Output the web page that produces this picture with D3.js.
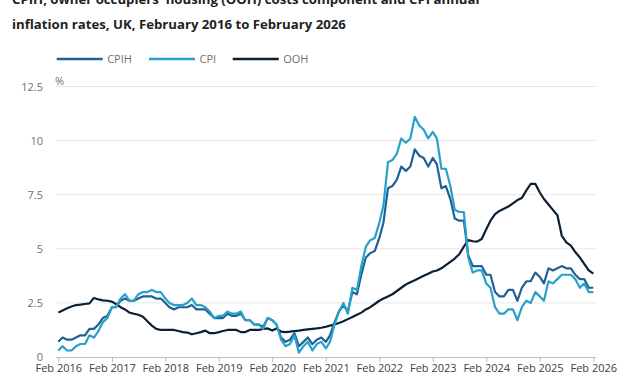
<!DOCTYPE html>
<html>
<head>
<meta charset="utf-8">
<script src="https://cdn.jsdelivr.net/npm/d3@7"></script>
<style>
  html, body { margin: 0; padding: 0; background: #ffffff; }
  svg { display: block; font-family: "Open Sans", "Noto Sans", sans-serif; }
</style>
</head>
<body>
<div id="chart"></div>
<script>
// ---- Data (annual inflation rate, %, monthly, Feb 2016 – Feb 2026) ----
const titleLines = [
  "CPIH, owner occupiers' housing (OOH) costs component and CPI annual",
  "inflation rates, UK, February 2016 to February 2026"
];
const seriesNames = ["CPIH", "CPI", "OOH"];
const startMonth = new Date(2016, 1, 1);
const endMonth = new Date(2026, 1, 1);
const xTickLabels = ["Feb 2016","Feb 2017","Feb 2018","Feb 2019","Feb 2020","Feb 2021","Feb 2022","Feb 2023","Feb 2024","Feb 2025","Feb 2026"];
const yTicks = [0, 2.5, 5, 7.5, 10, 12.5];

const cpih = [
  0.7, 0.9, 0.8, 0.8, 0.9, 1.0, 1.0, 1.3, 1.3, 1.5, 1.8,
  1.9, 2.3, 2.3, 2.6, 2.7, 2.6, 2.6, 2.7, 2.8, 2.8, 2.8, 2.7,
  2.7, 2.5, 2.3, 2.2, 2.3, 2.3, 2.3, 2.4, 2.2, 2.2, 2.2, 2.0,
  1.8, 1.8, 1.8, 2.0, 1.9, 1.9, 2.0, 1.7, 1.7, 1.5, 1.5, 1.4,
  1.8, 1.7, 1.5, 0.9, 0.7, 0.8, 1.1, 0.5, 0.7, 0.9, 0.6, 0.8,
  0.9, 0.7, 1.0, 1.6, 2.1, 2.4, 2.1, 3.0, 2.9, 3.8, 4.6, 4.8,
  4.9, 5.5, 6.2, 7.8, 7.9, 8.2, 8.8, 8.6, 8.8, 9.6, 9.3, 9.2,
  8.8, 9.2, 8.9, 7.8, 7.9, 7.3, 6.4, 6.3, 6.3, 4.7, 4.2, 4.2,
  4.2, 3.8, 3.8, 3.0, 2.8, 2.8, 3.1, 3.1, 2.6, 3.2, 3.5, 3.5,
  3.9, 3.7, 3.4, 4.1, 4.0, 4.1, 4.2, 4.1, 4.1, 3.8, 3.6, 3.6,
  3.2, 3.2
];
const cpi = [
  0.3, 0.5, 0.3, 0.3, 0.5, 0.6, 0.6, 1.0, 0.9, 1.2, 1.6,
  1.8, 2.3, 2.3, 2.7, 2.9, 2.6, 2.6, 2.9, 3.0, 3.0, 3.1, 3.0,
  3.0, 2.7, 2.5, 2.4, 2.4, 2.4, 2.5, 2.7, 2.4, 2.4, 2.3, 2.1,
  1.8, 1.9, 1.9, 2.1, 2.0, 2.0, 2.1, 1.7, 1.7, 1.5, 1.5, 1.3,
  1.8, 1.7, 1.5, 0.8, 0.5, 0.6, 1.0, 0.2, 0.5, 0.7, 0.3, 0.6,
  0.7, 0.4, 0.7, 1.5, 2.1, 2.5, 2.0, 3.2, 3.1, 4.2, 5.1, 5.4,
  5.5, 6.2, 7.0, 9.0, 9.1, 9.4, 10.1, 9.9, 10.1, 11.1, 10.7, 10.5,
  10.1, 10.4, 10.1, 8.7, 8.7, 7.9, 6.8, 6.7, 6.7, 4.6, 3.9, 4.0,
  4.0, 3.4, 3.2, 2.3, 2.0, 2.0, 2.2, 2.2, 1.7, 2.3, 2.6, 2.5,
  3.0, 2.8, 2.6, 3.5, 3.4, 3.6, 3.8, 3.8, 3.8, 3.6, 3.2, 3.4,
  3.0, 3.0
];
const ooh = [
  2.05, 2.15, 2.25, 2.33, 2.4, 2.42, 2.45, 2.48, 2.73, 2.66, 2.62,
  2.6, 2.56, 2.45, 2.3, 2.2, 2.05, 2.0, 1.95, 1.86, 1.65, 1.45, 1.3,
  1.25, 1.25, 1.25, 1.25, 1.2, 1.15, 1.13, 1.05, 1.1, 1.15, 1.22, 1.1,
  1.1, 1.15, 1.2, 1.25, 1.25, 1.25, 1.15, 1.15, 1.25, 1.25, 1.25, 1.3,
  1.32, 1.22, 1.32, 1.17, 1.15, 1.17, 1.2, 1.22, 1.25, 1.28, 1.3, 1.32,
  1.35, 1.4, 1.45, 1.5, 1.57, 1.65, 1.75, 1.85, 1.95, 2.05, 2.2, 2.3,
  2.45, 2.6, 2.7, 2.8, 2.9, 3.05, 3.2, 3.35, 3.45, 3.55, 3.65, 3.75,
  3.85, 3.95, 4.0, 4.1, 4.25, 4.4, 4.55, 4.75, 5.1, 5.4, 5.35, 5.33,
  5.45, 5.9, 6.3, 6.6, 6.75, 6.85, 6.95, 7.1, 7.25, 7.35, 7.7, 8.0,
  8.0, 7.6, 7.3, 7.05, 6.8, 6.55, 5.6, 5.3, 5.15, 4.85, 4.6, 4.3,
  4.0, 3.85
];
const seriesColors = ["#206095", "#27a0cc", "#0b2034"];

// ---- Layout ----
const W = 634, H = 375;
const plot = { left: 58.3, right: 593.3, top: 86.5, bottom: 357 };

const months = d3.timeMonth.range(startMonth, d3.timeMonth.offset(endMonth, 1));
const seriesValues = [cpih, cpi, ooh];

const x = d3.scaleTime().domain([startMonth, endMonth]).range([plot.left, plot.right]);
const y = d3.scaleLinear().domain([0, 12.5]).range([plot.bottom, plot.top]);

const svg = d3.select("#chart").append("svg").attr("width", W).attr("height", H);

// Title
const title = svg.append("g").attr("fill", "#222222").attr("font-weight", 700).attr("font-size", 13.2);
titleLines.forEach((t, i) => {
  title.append("text").attr("x", 12).attr("y", 4 + i * 25).text(t);
});

// Legend
const legend = svg.append("g");
const legendX = [56.7, 149, 232.7];
seriesNames.forEach((n, i) => {
  legend.append("line")
    .attr("x1", legendX[i]).attr("x2", legendX[i] + 46)
    .attr("y1", 59).attr("y2", 59)
    .attr("stroke", seriesColors[i]).attr("stroke-width", 2.5);
  legend.append("text")
    .attr("x", legendX[i] + 50.5).attr("y", 63)
    .attr("font-size", 11).attr("fill", "#707071")
    .text(n);
});

// Gridlines + y axis labels
const yAxis = d3.axisLeft(y).tickValues(yTicks).tickSize(0).tickPadding(0)
  .tickFormat(d => d3.format("")(d));
const yg = svg.append("g").attr("transform", `translate(43,0)`).call(yAxis);
yg.select(".domain").remove();
yg.selectAll("text").attr("font-size", 11).attr("fill", "#707071").attr("font-family", "Open Sans");

svg.append("g").selectAll("line").data(yTicks.filter(d => d > 0)).join("line")
  .attr("x1", 56).attr("x2", 596)
  .attr("y1", d => y(d)).attr("y2", d => y(d))
  .attr("stroke", "#e6e6e6").attr("stroke-width", 1);

svg.append("text").attr("x", 55).attr("y", 85).attr("font-size", 11).attr("fill", "#707071").text("%");

// X axis
const tickDates = xTickLabels.map((_, i) => d3.timeYear.offset(startMonth, i));
const xAxis = d3.axisBottom(x).tickValues(tickDates).tickSize(5).tickPadding(2)
  .tickFormat((d, i) => xTickLabels[i]);
const xg = svg.append("g").attr("transform", `translate(0,${plot.bottom})`).call(xAxis);
xg.select(".domain").attr("d", `M56,0.5H596`).attr("stroke", "#bdbdbd");
xg.selectAll(".tick line").attr("stroke", "#bdbdbd");
xg.selectAll("text").attr("font-size", 11).attr("fill", "#414042").attr("font-family", "Open Sans");

// Lines
const line = d3.line().x((d, i) => x(months[i])).y(d => y(d));
const order = [2, 0, 1];
order.forEach(si => {
  svg.append("path")
    .datum(seriesValues[si])
    .attr("d", line)
    .attr("fill", "none")
    .attr("stroke", seriesColors[si])
    .attr("stroke-width", 2.2)
    .attr("stroke-linejoin", "round");
});
</script>
</body>
</html>
